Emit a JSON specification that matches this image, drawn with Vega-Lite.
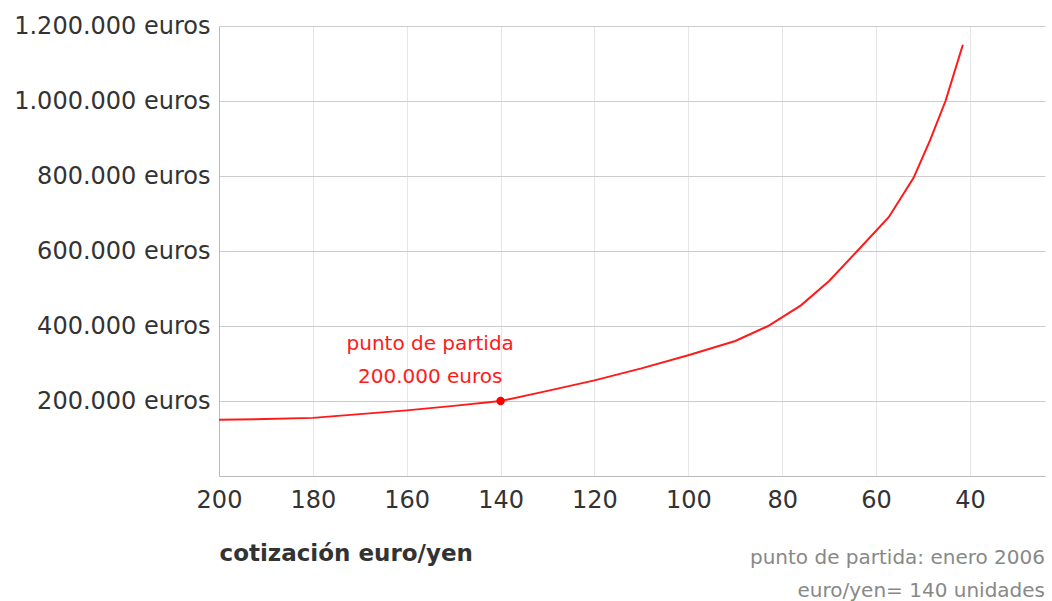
{
  "$schema": "https://vega.github.io/schema/vega-lite/v6.json",
  "width": 826,
  "height": 450,
  "autosize": "none",
  "padding": {"left": 219, "top": 26, "right": 7, "bottom": 125},
  "background": "white",
  "config": {
    "font": "DejaVu Sans",
    "view": {"stroke": null},
    "locale": {"number": {"decimal": ",", "thousands": ".", "grouping": [3], "currency": ["", " €"]}}
  },
  "title": {
    "text": ["punto de partida: enero 2006", "euro/yen= 140 unidades"],
    "orient": "bottom",
    "anchor": "end",
    "frame": "group",
    "fontSize": 20,
    "fontWeight": "normal",
    "color": "#888888",
    "lineHeight": 33,
    "offset": -17,
    "align": "right"
  },
  "datasets": {
    "curve": [
      {"cotizacion": 200, "valor": 150000},
      {"cotizacion": 190, "valor": 152000},
      {"cotizacion": 180, "valor": 155000},
      {"cotizacion": 170, "valor": 165000},
      {"cotizacion": 160, "valor": 175000},
      {"cotizacion": 150, "valor": 187000},
      {"cotizacion": 140, "valor": 200000},
      {"cotizacion": 130, "valor": 227000},
      {"cotizacion": 120, "valor": 255000},
      {"cotizacion": 110, "valor": 287000},
      {"cotizacion": 100, "valor": 322000},
      {"cotizacion": 90, "valor": 360000},
      {"cotizacion": 83, "valor": 400000},
      {"cotizacion": 76, "valor": 455000},
      {"cotizacion": 70, "valor": 520000},
      {"cotizacion": 64, "valor": 600000},
      {"cotizacion": 57.3, "valor": 690000},
      {"cotizacion": 52, "valor": 795000},
      {"cotizacion": 48.5, "valor": 895000},
      {"cotizacion": 45.2, "valor": 1000000},
      {"cotizacion": 41.5, "valor": 1150000}
    ],
    "start": [{"cotizacion": 140, "valor": 200000}]
  },
  "encoding": {
    "x": {
      "field": "cotizacion",
      "type": "quantitative",
      "scale": {"domain": [24, 200], "reverse": true, "nice": false, "zero": false},
      "axis": {
        "values": [200, 180, 160, 140, 120, 100, 80, 60, 40],
        "title": "cotización euro/yen",
        "titleAnchor": "end",
        "titleAlign": "left",
        "titleFontSize": 23,
        "titleFontWeight": "bold",
        "titleColor": "#333333",
        "titlePadding": 30,
        "labelFontSize": 24,
        "labelColor": "#333333",
        "labelPadding": 12,
        "ticks": false,
        "domainColor": "#bbbbbb",
        "gridColor": "#e6e6e6",
        "labelFlush": false
      }
    },
    "y": {
      "field": "valor",
      "type": "quantitative",
      "scale": {"domain": [0, 1200000], "nice": false},
      "axis": {
        "values": [200000, 400000, 600000, 800000, 1000000, 1200000],
        "format": ",d",
        "labelExpr": "datum.label + ' euros'",
        "title": null,
        "labelFontSize": 24,
        "labelColor": "#333333",
        "labelPadding": 9,
        "labelLimit": 400,
        "ticks": false,
        "domainColor": "#bbbbbb",
        "gridColor": "#cccccc",
        "labelFlush": false
      }
    }
  },
  "layer": [
    {
      "data": {"name": "curve"},
      "mark": {"type": "line", "color": "#ff1a1a", "strokeWidth": 2}
    },
    {
      "data": {"name": "start"},
      "mark": {"type": "point", "filled": true, "color": "#ff0000", "size": 70, "opacity": 1}
    },
    {
      "data": {"name": "start"},
      "mark": {"type": "text", "color": "#ff1a1a", "fontSize": 20, "baseline": "middle", "align": "center"},
      "encoding": {
        "x": {"datum": 155},
        "y": {"datum": 352000},
        "text": {"value": "punto de partida"}
      }
    },
    {
      "data": {"name": "start"},
      "mark": {"type": "text", "color": "#ff1a1a", "fontSize": 20, "baseline": "middle", "align": "center"},
      "encoding": {
        "x": {"datum": 155},
        "y": {"datum": 265000},
        "text": {"value": "200.000 euros"}
      }
    }
  ]
}
